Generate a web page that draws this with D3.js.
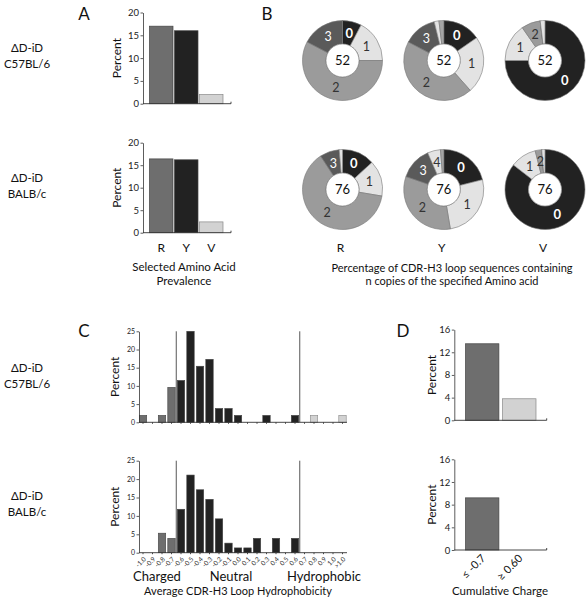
<!DOCTYPE html>
<html><head><meta charset="utf-8">
<script src="https://cdn.jsdelivr.net/npm/d3@7/dist/d3.min.js"></script>
<style>
body{margin:0;background:#fff}
text{font-family:Lato,"Open Sans",sans-serif;fill:#111}
</style>
</head><body><svg id="chart" width="588" height="601"></svg>
<script>
// ---------- DATA ----------
const aminoAcids = ["R", "Y", "V"];
const prevalenceC57 = [17, 16, 2];
const prevalenceBALB = [16.4, 16.2, 2.4];
const prevalenceTicks = [0, 5, 10, 15, 20];

const copyNumbers = [0, 1, 2, 3, 4, 5];
const donutC57R = [4, 9, 30, 9];
const donutC57Y = [8, 12, 23, 7, 1, 1];
const donutC57V = [39, 8, 4, 0, 1];
const donutBALBR = [10, 11, 48, 6, 1];
const donutBALBY = [16, 20, 25, 10, 4, 1];
const donutBALBV = [65, 8, 2, 0, 1];
const donutTotals = [52, 76];

const hydroBins = ["-1.0","-0.9","-0.8","-0.7","-0.6","-0.5","-0.4","-0.3","-0.2","-0.1","0.0","0.1","0.2","0.3","0.4","0.5","0.6","0.7","0.8","0.9","1.0",">1.0"];
const hydroC57  = [1.9,0,1.9,9.6,11.5,25,15.4,17.3,3.8,3.8,1.9,0,0,1.9,0,0,1.9,0,1.9,0,0,1.9];
const hydroBALB = [0,0,5.3,3.9,11.8,21.1,17.1,14.5,9.2,2.6,1.3,1.3,3.9,0,3.9,0,3.9,0,0,0,0,0];
const hydroTicks = [0, 5, 10, 15, 20, 25];

const chargeCats = ["\u2264 -0.7", "\u2265 0.60"];
const chargeC57 = [13.5, 3.8];
const chargeBALB = [9.2, 0];
const chargeTicks = [0, 4, 8, 12, 16];

const strainLines = [["\u0394D-iD", "C57BL/6"], ["\u0394D-iD", "BALB/c"]];

// ---------- STYLE ----------
const DARK = "#222", MID = "#6e6e6e", LIGHT = "#d2d2d2";
const svg = d3.select("#chart");

function txt(x, y, s, size, opts = {}) {
  const t = svg.append("text").attr("x", x).attr("y", y).text(s)
    .attr("font-size", size).attr("text-anchor", opts.anchor || "middle");
  if (opts.weight) t.attr("font-weight", opts.weight);
  if (opts.fill) t.style("fill", opts.fill);
  if (opts.rotate !== undefined) t.attr("transform", `rotate(${opts.rotate},${x},${y})`);
  return t;
}

function yAxis(x, y, ticks, fs) {
  const g = svg.append("g").attr("transform", `translate(${x},0)`)
    .call(d3.axisLeft(y).tickValues(ticks).tickSize(2.5).tickSizeOuter(0).tickPadding(1.5));
  g.selectAll("path,line").attr("stroke", "#333").attr("stroke-width", 0.8);
  g.selectAll("text").attr("font-size", fs).style("font-family", "Lato,'Open Sans',sans-serif").style("fill", "#222");
  return g;
}

function xLine(x0, x1, y) {
  svg.append("path").attr("d", `M${x0},${y}H${x1}v-2`).attr("fill", "none")
    .attr("stroke", "#333").attr("stroke-width", 0.9);
}

// ---------- Row labels ----------
[[48, 64], [178, 194], [368, 384], [496, 512]].forEach((p, i) => {
  const lines = strainLines[i % 2];
  txt(27, p[0] + 4, lines[0], 11.5);
  txt(27, p[1] + 4, lines[1], 11.5);
});

// panel letters
txt(84, 20, "A", 17);
txt(267, 20, "B", 17);
txt(84, 337, "C", 17);
txt(403, 337, "D", 17);

// ---------- Panel A ----------
const ax = d3.scaleBand().domain(aminoAcids).range([149.5, 223]).paddingInner(0.06);
const aColors = [MID, DARK, LIGHT];
[[prevalenceC57, 103.7, 12.5], [prevalenceBALB, 232.7, 142.7]].forEach(([vals, y0, y1]) => {
  const y = d3.scaleLinear().domain([0, 20]).range([y0, y1]);
  svg.append("g").selectAll("rect").data(vals).join("rect")
    .attr("x", (d, i) => ax(aminoAcids[i])).attr("width", ax.bandwidth())
    .attr("y", d => y(d)).attr("height", d => y0 - y(d))
    .attr("fill", (d, i) => aColors[i]).attr("stroke", (d, i) => i === 2 ? "#888" : "#444").attr("stroke-width", 0.7);
  yAxis(143, y, prevalenceTicks, 9.5);
  xLine(143, 231, y0);
  txt(121, (y0 + y1) / 2, "Percent", 12, {rotate: -90});
});
aminoAcids.forEach(a => txt(ax(a) + ax.bandwidth() / 2, 252, a, 12));
txt(184, 271, "Selected Amino Acid", 11.5);
txt(184, 285, "Prevalence", 11.5);

// ---------- Panel B ----------
const donutColors = [DARK, "#e3e3e3", "#9b9b9b", "#5a5a5a", "#e3e3e3", "#a5a5a5"];
const donutTextColors = ["#fff", "#333", "#333", "#fff", "#333", "#333"];
const donutSets = [[donutC57R, donutC57Y, donutC57V], [donutBALBR, donutBALBY, donutBALBV]];
const donutCx = d3.scalePoint().domain(aminoAcids).range([342.5, 545]);
const donutCy = [60.5, 189.5];
const pie = d3.pie().sort(null).value(d => d.v);
const arc = d3.arc().innerRadius(16.5).outerRadius(40);
const labelArc = d3.arc().innerRadius(28).outerRadius(28);
donutSets.forEach((row, r) => {
  row.forEach((counts, c) => {
    const total = d3.sum(counts);
    const data = counts.map((v, i) => ({v, n: copyNumbers[i]}));
    const g = svg.append("g").attr("transform", `translate(${donutCx(aminoAcids[c])},${donutCy[r]})`);
    const arcs = pie(data);
    g.selectAll("path").data(arcs).join("path").attr("d", arc)
      .attr("fill", d => donutColors[d.data.n]).attr("stroke", "#777").attr("stroke-width", 0.6);
    g.append("circle").attr("r", 16.5).attr("fill", "#fff").attr("stroke", "#777").attr("stroke-width", 0.6);
    g.append("text").attr("y", 4.5).attr("text-anchor", "middle").attr("font-size", 13).text(donutTotals[r]);
    arcs.filter(d => d.data.v / total > 0.025).forEach(d => {
      const [lx, ly] = labelArc.centroid(d);
      g.append("text").attr("x", lx).attr("y", ly + 4.5).attr("text-anchor", "middle")
        .attr("font-size", d.data.n === 0 ? 13 : 12.5).attr("font-weight", d.data.n === 0 ? "bold" : "normal")
        .style("fill", donutTextColors[d.data.n]).text(d.data.n);
    });
  });
});
aminoAcids.forEach(a => txt(donutCx(a) - 2, 252, a, 12));
txt(452, 272, "Percentage of CDR-H3 loop sequences  containing", 11);
txt(452, 285, "n copies of the specified Amino acid", 11);

// ---------- Panel C ----------
const cx = d3.scaleBand().domain(hydroBins).range([138.25, 347.25]).paddingInner(0.22).paddingOuter(0.11);
const binColor = i => i <= 3 ? MID : (i >= 17 ? LIGHT : DARK);
[[hydroC57, 422.3, 331.3, false], [hydroBALB, 552.7, 460.7, true]].forEach(([vals, y0, y1, labels]) => {
  const y = d3.scaleLinear().domain([0, 25]).range([y0, y1]);
  svg.append("g").selectAll("rect").data(vals.map((v, i) => ({v, i})).filter(d => d.v > 0)).join("rect")
    .attr("x", d => cx(hydroBins[d.i])).attr("width", cx.bandwidth())
    .attr("y", d => y(d.v)).attr("height", d => y0 - y(d.v))
    .attr("fill", d => binColor(d.i)).attr("stroke", d => d.i >= 17 ? "#888" : "#444").attr("stroke-width", 0.6);
  const step = cx.step();
  [hydroBins[4], hydroBins[17]].forEach(b => {
    const bx = cx(b) - (step - cx.bandwidth()) / 2;
    svg.append("line").attr("x1", bx).attr("x2", bx).attr("y1", y1).attr("y2", y0)
      .attr("stroke", "#444").attr("stroke-width", 0.9);
  });
  yAxis(139, y, hydroTicks, 7);
  const gx = svg.append("g").attr("transform", `translate(0,${y0})`)
    .call(d3.axisBottom(cx).tickSize(1.5).tickSizeOuter(0).tickFormat(labels ? (d => d) : () => ""));
  gx.selectAll("path,line").attr("stroke", "#333").attr("stroke-width", 0.9);
  gx.select("path").attr("d", `M139,0H347`);
  if (labels) {
    gx.selectAll("text").attr("font-size", 6.5).style("fill", "#333")
      .attr("text-anchor", "end").attr("dy", 0).attr("y", 0)
      .attr("transform", "translate(3.5,7) rotate(-45)");
  }
  txt(119, (y0 + y1) / 2, "Percent", 12, {rotate: -90});
});
txt(157, 581, "Charged", 13);
txt(231, 581, "Neutral", 13);
txt(324, 581, "Hydrophobic", 13);
txt(238, 595, "Average CDR-H3 Loop Hydrophobicity", 11);

// ---------- Panel D ----------
const dx = d3.scaleBand().domain(chargeCats).range([465.5, 536]).paddingInner(0.1);
[[chargeC57, 420.3, 329.6, false], [chargeBALB, 550, 459.3, true]].forEach(([vals, y0, y1, labels]) => {
  const y = d3.scaleLinear().domain([0, 16]).range([y0, y1]);
  svg.append("g").selectAll("rect").data(vals.map((v, i) => ({v, i})).filter(d => d.v > 0)).join("rect")
    .attr("x", d => dx(chargeCats[d.i])).attr("width", dx.bandwidth())
    .attr("y", d => y(d.v)).attr("height", d => y0 - y(d.v))
    .attr("fill", d => d.i === 0 ? MID : LIGHT).attr("stroke", d => d.i === 0 ? "#444" : "#888").attr("stroke-width", 0.7);
  yAxis(454.3, y, chargeTicks, 9.5);
  xLine(454.3, 546.7, y0);
  if (labels) {
    chargeCats.forEach(c => {
      const x = dx(c) + dx.bandwidth() / 2 + 4, yy = y0 + 9;
      txt(x, yy, c, 11, {anchor: "end", rotate: -45});
    });
  }
  txt(436, (y0 + y1) / 2, "Percent", 12, {rotate: -90});
});
txt(500, 595, "Cumulative Charge", 11.5);
</script>
</body></html>
